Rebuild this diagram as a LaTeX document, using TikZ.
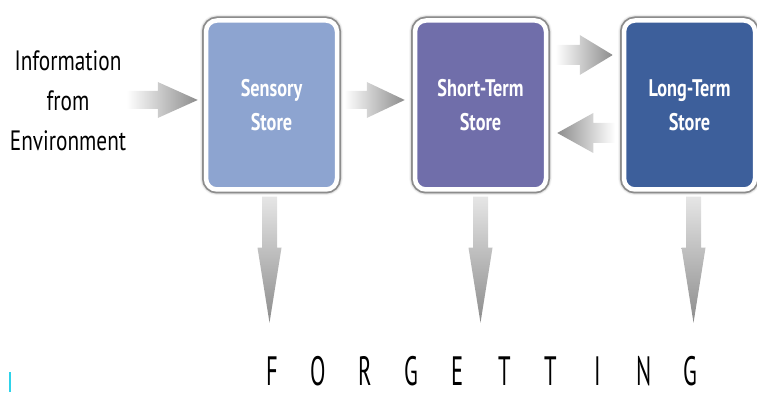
\documentclass[tikz,border=0pt]{standalone}
\usepackage{fontspec}
\newfontfamily\labelfont{PT Sans}[FakeStretch=0.76]
\newfontfamily\letterfont{PT Sans}[FakeStretch=0.55]
\usetikzlibrary{positioning,calc,shadows.blur}
\definecolor{sensorycol}{HTML}{8DA4D0}
\definecolor{shortcol}{HTML}{706EAA}
\definecolor{longcol}{HTML}{3D5F9B}
\definecolor{cursorcol}{HTML}{2ED3EA}

\begin{document}
\begin{tikzpicture}[x=1pt, y=1pt, node distance=209pt,
    store/.style = {draw=white, line width=4.5pt, fill=#1, rounded corners=11pt,
        minimum width=131pt, minimum height=169pt, text=white, align=center,
        font=\labelfont\bfseries\fontsize{24}{34}\selectfont,
        blur shadow={shadow xshift=0pt, shadow yshift=0pt, shadow blur radius=6pt, shadow opacity=95, shadow blur steps=10},
        preaction={draw=black!45, line width=8pt}},
    flow/.style = {left color=white, right color=black!45},
    back/.style = {left color=black!45, right color=white},
    drop/.style = {top color=black!10, bottom color=black!45},
    letter/.style = {font=\letterfont\fontsize{41}{41}\selectfont, inner sep=0pt}]
    \useasboundingbox (0,0) rectangle (757,396);
    \node[store=sensorycol] (sensory) at (271.5,291) {Sensory\\Store};
    \node[store=shortcol] (short) [right of=sensory] {Short-Term\\Store};
    \node[store=longcol] (long) [right of=short] {Long-Term\\Store};
    \node[align=center, font=\labelfont\fontsize{28}{40}\selectfont] (info) at (68,295) {Information\\from\\Environment};
    % ends of the fat arrows
    \coordinate (intip) at ($(sensory.west)+(-6,5)$);
    \coordinate (intail) at ($(info.east |- intip)+(-3,0)$);
    \coordinate (s1tail) at ($(sensory.east)+(5,5)$);
    \coordinate (s1tip) at ($(short.west)+(-8,5)$);
    \coordinate (s2tail) at ($(short.east)+(7,50)$);
    \coordinate (s2tip) at ($(long.west)+(-9,50)$);
    \coordinate (l1tail) at ($(long.west)+(-7,-28)$);
    \coordinate (l1tip) at ($(short.east)+(9,-28)$);
    \shade[flow] ($(intail)+(0,9)$) -- ($(intip)+(-40,9)$) -- ($(intip)+(-40,18)$) -- (intip) -- ($(intip)+(-40,-18)$) -- ($(intip)+(-40,-9)$) -- ($(intail)+(0,-9)$) -- cycle;
    \shade[flow] ($(s1tail)+(0,9)$) -- ($(s1tip)+(-38,9)$) -- ($(s1tip)+(-38,18)$) -- (s1tip) -- ($(s1tip)+(-38,-18)$) -- ($(s1tip)+(-38,-9)$) -- ($(s1tail)+(0,-9)$) -- cycle;
    \shade[flow] ($(s2tail)+(0,10)$) -- ($(s2tip)+(-33,10)$) -- ($(s2tip)+(-33,20)$) -- (s2tip) -- ($(s2tip)+(-33,-20)$) -- ($(s2tip)+(-33,-10)$) -- ($(s2tail)+(0,-10)$) -- cycle;
    \shade[back] ($(l1tail)+(0,10)$) -- ($(l1tip)+(36,10)$) -- ($(l1tip)+(36,20)$) -- (l1tip) -- ($(l1tip)+(36,-20)$) -- ($(l1tip)+(36,-10)$) -- ($(l1tail)+(0,-10)$) -- cycle;
    % forgetting arrows
    \foreach \st/\dx in {sensory/-2, short/0, long/4} {
        \coordinate (\st tail) at ($(\st.south)+(\dx,-5)$);
        \coordinate (\st tip) at ($(\st.south)+(\dx,-131)$);
        \shade[drop] ($(\st tail)+(-7.5,0)$) -- ($(\st tip)+(-7.5,75)$) -- ($(\st tip)+(-12,75)$) -- (\st tip) -- ($(\st tip)+(12,75)$) -- ($(\st tip)+(7.5,75)$) -- ($(\st tail)+(7.5,0)$) -- cycle;
    }
    \foreach \c [count=\i from 0] in {F,O,R,G,E,T,T,I,N,G}
        \node[letter] (letter\i) at (272+46.5*\i,25) {\c};
    \draw[cursorcol, line width=2pt] (10,4) -- (10,24);
\end{tikzpicture}
\end{document}
